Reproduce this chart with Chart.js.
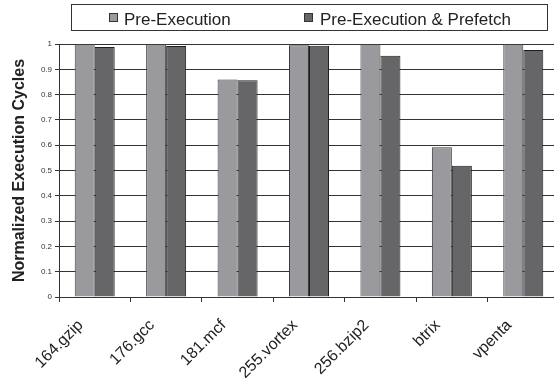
<!DOCTYPE html>
<html>
<head>
<meta charset="utf-8">
<script src="https://cdn.jsdelivr.net/npm/chart.js@4.4.1/dist/chart.umd.min.js"></script>
<style>
  html, body { margin: 0; padding: 0; background: #fff; overflow: hidden; width: 554px; height: 381px; }
  #wrap { width: 566px; height: 381px; }
</style>
</head>
<body>
<div id="wrap"><canvas id="chart" width="566" height="381"></canvas></div>
<script>
// Benchmarks and normalized execution cycles
const benchmarks = ['164.gzip', '176.gcc', '181.mcf', '255.vortex', '256.bzip2', 'btrix', 'vpenta'];
const preExecution = [1.0, 1.0, 0.86, 0.995, 1.0, 0.592, 1.0];
const preExecutionPrefetch = [0.988, 0.992, 0.857, 0.993, 0.954, 0.519, 0.976];
const yTickValues = [0, 0.1, 0.2, 0.3, 0.4, 0.5, 0.6, 0.7, 0.8, 0.9, 1];
const seriesNames = ['Pre-Execution', 'Pre-Execution & Prefetch'];

const lightFill = '#9a9a9e';
const darkFill = '#666668';
const inkColor = '#222222';
const FONT = 'Arial, "Liberation Sans", Helvetica, sans-serif';

// Boxed legend drawn above the plot
const boxedLegend = {
  id: 'boxedLegend',
  afterDraw(chart) {
    const ctx = chart.ctx;
    ctx.save();
    ctx.strokeStyle = '#333';
    ctx.lineWidth = 1;
    ctx.strokeRect(71.5, 4.5, 476, 26);
    const items = [
      { x: 109, textX: 124 },
      { x: 304, textX: 320 }
    ];
    ctx.font = '17px ' + FONT;
    ctx.textBaseline = 'alphabetic';
    ctx.textAlign = 'left';
    chart.data.datasets.forEach((ds, i) => {
      const it = items[i];
      ctx.fillStyle = ds.backgroundColor;
      ctx.fillRect(it.x, 13, 9, 9);
      ctx.strokeStyle = '#333';
      ctx.strokeRect(it.x + 0.5, 13.5, 8, 8);
      ctx.fillStyle = inkColor;
      ctx.fillText(ds.label, it.textX, 24.5);
    });
    ctx.restore();
  }
};

new Chart(document.getElementById('chart'), {
  type: 'bar',
  data: {
    labels: benchmarks,
    datasets: [
      {
        label: seriesNames[0],
        data: preExecution,
        backgroundColor: lightFill,
        borderColor: '#3a3a3a',
        borderWidth: 1
      },
      {
        label: seriesNames[1],
        data: preExecutionPrefetch,
        backgroundColor: darkFill,
        borderColor: '#1e1e1e',
        borderWidth: 1
      }
    ]
  },
  options: {
    responsive: false,
    animation: false,
    devicePixelRatio: 1,
    categoryPercentage: 0.56,
    barPercentage: 1.0,
    layout: { padding: { top: 44, right: 7, left: 0, bottom: 0 } },
    plugins: {
      legend: { display: false },
      tooltip: { enabled: false }
    },
    scales: {
      x: {
        offset: true,
        grid: {
          offset: true,
          drawOnChartArea: false,
          drawTicks: true,
          tickLength: 5,
          color: '#333'
        },
        border: { display: true, color: '#333', width: 1 },
        ticks: {
          autoSkip: false,
          maxRotation: 45,
          minRotation: 45,
          padding: 14,
          labelOffset: -14,
          color: inkColor,
          font: { family: FONT, size: 16 }
        },
        afterFit(scale) { scale.height = 84; }
      },
      y: {
        min: 0,
        max: 1,
        afterBuildTicks(scale) {
          scale.ticks = yTickValues.map(v => ({ value: v }));
        },
        grid: {
          color: '#333',
          lineWidth: 1,
          drawTicks: true,
          tickLength: 4
        },
        border: { display: true, color: '#333', width: 1 },
        ticks: {
          padding: 3,
          color: '#333',
          font: { family: FONT, size: 8 },
          callback: v => String(v)
        },
        title: {
          display: true,
          text: 'Normalized Execution Cycles',
          color: inkColor,
          font: { family: FONT, size: 16, weight: 'bold' },
          padding: { top: 10, bottom: 0 }
        },
        afterFit(scale) { scale.width = 59; }
      }
    }
  },
  plugins: [boxedLegend]
});
</script>
</body>
</html>
